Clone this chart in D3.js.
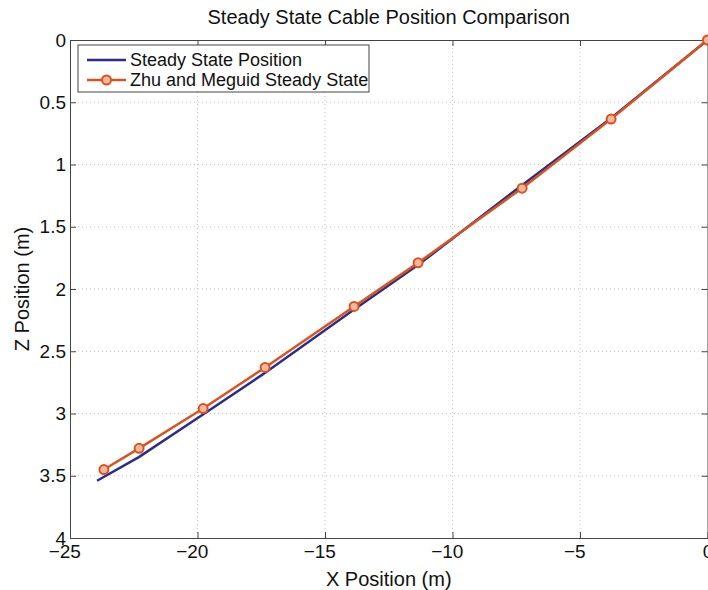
<!DOCTYPE html>
<html>
  <head>
    <meta charset="utf-8">
    <title>Steady State Cable Position Comparison</title>
    <script src="https://d3js.org/d3.v7.min.js"></script>
    <style>
      body { margin: 0; background: white; }
      text { font-family: "Liberation Sans", Arial, sans-serif; fill: #111; }
      .axis path, .axis line { stroke: #444; }
      .axis text { font-size: 19px; fill: #111; }
      .grid line { stroke: #c4c4c4; stroke-dasharray: 1,3; }
    </style>
  </head>
  <body>
    <script>
      var width = 708;
      var height = 590;
      var margin = {top: 40, left: 70, right: 0.5, bottom: 52};

      // steady state position (blue line)
      var steadyX = [0, -3.8, -7.3, -11.3, -13.9, -17.4, -19.8, -22.3, -23.94];
      var steadyZ = [0, 0.63, 1.17, 1.80, 2.17, 2.68, 3.01, 3.35, 3.54];

      // Zhu and Meguid steady state (orange, circle markers)
      var zhuX = [0, -3.78, -7.27, -11.35, -13.86, -17.35, -19.78, -22.29, -23.67];
      var zhuZ = [0, 0.635, 1.19, 1.79, 2.14, 2.63, 2.96, 3.28, 3.45];

      var xTicks = [-25, -20, -15, -10, -5, 0];
      var zTicks = [0, 0.5, 1, 1.5, 2, 2.5, 3, 3.5, 4];

      var svg = d3.select("body")
        .append("svg")
        .attr("width", width)
        .attr("height", height);

      var xScale = d3.scaleLinear()
        .domain([-25, 0])
        .range([margin.left, width - margin.right]);

      var yScale = d3.scaleLinear()
        .domain([0, 4])
        .range([margin.top, height - margin.bottom]);

      // dotted grid
      var grid = svg.append("g").attr("class", "grid");
      grid.selectAll("line.gx")
        .data(xTicks.slice(1, -1))
        .enter()
        .append("line")
          .attr("x1", function(d){ return xScale(d); })
          .attr("x2", function(d){ return xScale(d); })
          .attr("y1", yScale(0))
          .attr("y2", yScale(4));

      grid.selectAll("line.gy")
        .data(zTicks.slice(1, -1))
        .enter()
        .append("line")
          .attr("x1", xScale(-25))
          .attr("x2", xScale(0))
          .attr("y1", function(d){ return yScale(d); })
          .attr("y2", function(d){ return yScale(d); });

      // axes, ticks pointing inward (matlab style)
      svg.append("g")
        .attr("class", "axis")
        .attr("transform", `translate(0,${yScale(4)})`)
        .call(d3.axisBottom(xScale).tickValues(xTicks).tickSizeInner(-6).tickSizeOuter(0).tickPadding(7)
          .tickFormat(function(d){ return d < 0 ? "\u2212" + (-d) : "" + d; }))
        .selectAll("text")
          .attr("dx", function(d){ return d < 0 ? "-0.3em" : 0; });

      svg.append("g")
        .attr("class", "axis")
        .attr("transform", `translate(0,${yScale(0)})`)
        .call(d3.axisTop(xScale).tickValues(xTicks).tickSizeInner(-6).tickSizeOuter(0).tickFormat(""));

      svg.append("g")
        .attr("class", "axis")
        .attr("transform", `translate(${xScale(-25)},0)`)
        .call(d3.axisLeft(yScale).tickValues(zTicks).tickSizeInner(-6).tickSizeOuter(0).tickPadding(4)
          .tickFormat(function(d){ return "" + d; }));

      svg.append("g")
        .attr("class", "axis")
        .attr("transform", `translate(${xScale(0)},0)`)
        .call(d3.axisRight(yScale).tickValues(zTicks).tickSizeInner(-6).tickSizeOuter(0).tickFormat(""));

      var line = d3.line()
        .x(function(d){ return xScale(d[0]); })
        .y(function(d){ return yScale(d[1]); });

      var steady = d3.zip(steadyX, steadyZ);
      var zhu = d3.zip(zhuX, zhuZ);

      svg.append("path")
        .datum(steady)
        .attr("fill", "none")
        .attr("stroke", "#2b2c8c")
        .attr("stroke-width", 2.5)
        .attr("d", line);

      svg.append("path")
        .datum(zhu)
        .attr("fill", "none")
        .attr("stroke", "#d9531e")
        .attr("stroke-width", 2.5)
        .attr("d", line);

      svg.selectAll("circle.zhu")
        .data(zhu)
        .enter()
        .append("circle")
          .attr("class", "zhu")
          .attr("cx", function(d){ return xScale(d[0]); })
          .attr("cy", function(d){ return yScale(d[1]); })
          .attr("r", 4.5)
          .attr("fill", "#f1b9a0")
          .attr("stroke", "#d9531e")
          .attr("stroke-width", 2);

      // legend
      var legend = svg.append("g").attr("transform", "translate(78,45)");
      legend.append("rect")
        .attr("width", 291)
        .attr("height", 47)
        .attr("fill", "white")
        .attr("stroke", "#444");

      var legendNames = ["Steady State Position", "Zhu and Meguid Steady State"];
      var legendColors = ["#2b2c8c", "#d9531e"];

      legendNames.forEach(function(name, i) {
        var yy = 15 + i * 20;
        legend.append("line")
          .attr("x1", 9).attr("x2", 48)
          .attr("y1", yy).attr("y2", yy)
          .attr("stroke", legendColors[i])
          .attr("stroke-width", 2.5);
        if (i == 1) {
          legend.append("circle")
            .attr("cx", 28.5).attr("cy", yy).attr("r", 4.5)
            .attr("fill", "#f1b9a0")
            .attr("stroke", "#d9531e")
            .attr("stroke-width", 2);
        }
        legend.append("text")
          .attr("x", 52)
          .attr("y", yy + 6)
          .style("font-size", "18px")
          .text(name);
      });

      svg.append("text")
        .attr("x", (xScale(-25) + xScale(0)) / 2)
        .attr("y", 24)
        .attr("text-anchor", "middle")
        .style("font-size", "20px")
        .text("Steady State Cable Position Comparison");

      svg.append("text")
        .attr("x", (xScale(-25) + xScale(0)) / 2)
        .attr("y", 586)
        .attr("text-anchor", "middle")
        .style("font-size", "20px")
        .text("X Position (m)");

      svg.append("text")
        .attr("transform", "rotate(-90)")
        .attr("x", -(yScale(0) + yScale(4)) / 2)
        .attr("y", 29)
        .attr("text-anchor", "middle")
        .style("font-size", "20px")
        .text("Z Position (m)");
    </script>
  </body>
</html>
